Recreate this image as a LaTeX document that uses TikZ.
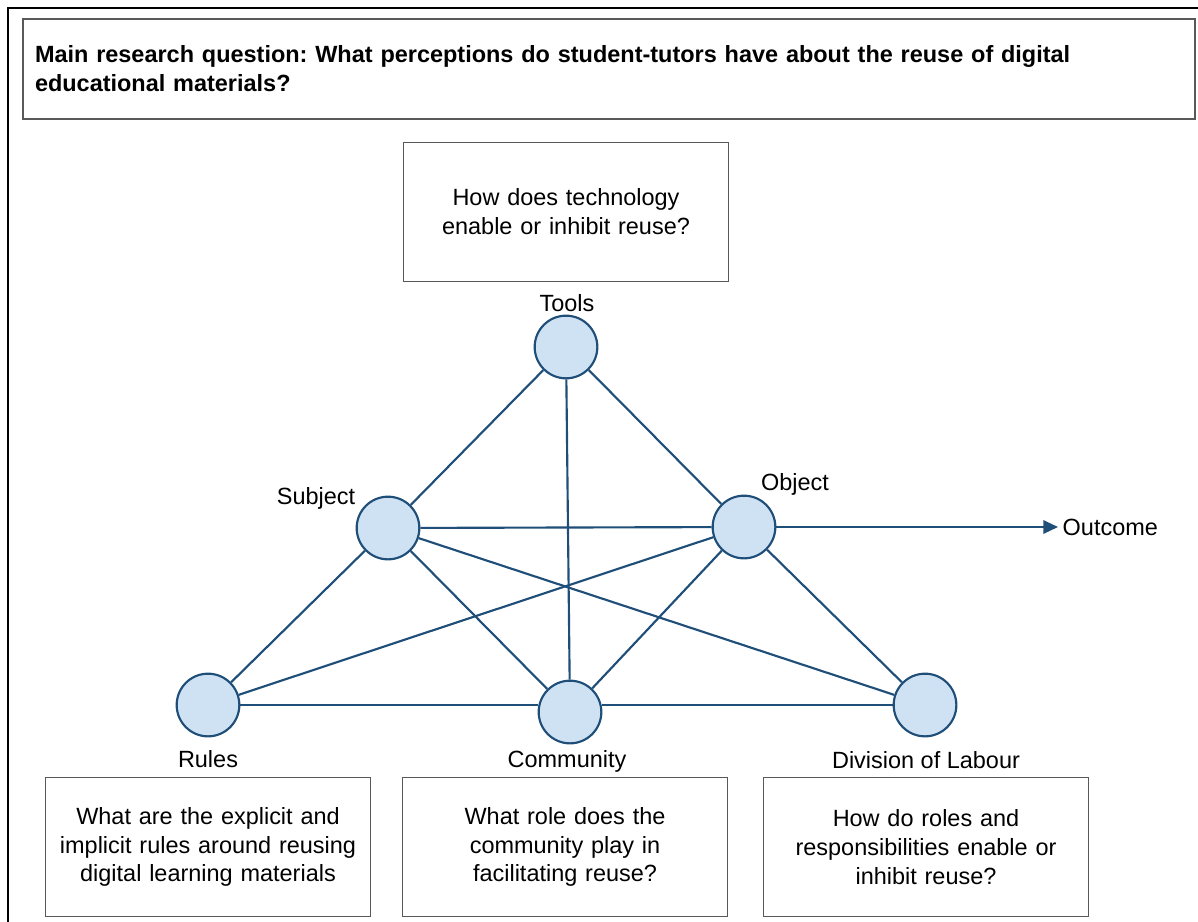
\documentclass[tikz,border=0pt]{standalone}
\usepackage{fontspec}
\setmainfont{Liberation Sans}
\frenchspacing
\usetikzlibrary{arrows.meta,positioning}
\definecolor{nodefill}{HTML}{CFE2F3}
\definecolor{nodeline}{HTML}{1F4E79}
\definecolor{boxline}{HTML}{595959}

\begin{document}
\begin{tikzpicture}
  [x=0.75pt,y=-0.75pt,
   every node/.style={font=\fontsize{17.6}{21.6}\selectfont},
   elem/.style={circle,draw=nodeline,fill=nodefill,line width=1.6pt,
                inner sep=0pt,minimum size=47pt},
   question/.style={rectangle,draw=boxline,line width=1pt,
                    minimum width=244pt,minimum height=104pt,
                    text width=236pt,align=center},
   link/.style={draw=nodeline,line width=1.6pt}]
  \useasboundingbox (0,0) rectangle (1198,921);
  \draw [line width=1.5pt] (8,930) -- (8,8) -- (1210,8);

  \node (title) at (609,69) [rectangle,draw=boxline,line width=1pt,
    minimum width=879pt,minimum height=75pt,text width=861pt,align=left,
    font=\bfseries\fontsize{17.6}{21.6}\selectfont]
    {Main research question: What perceptions do student-tutors have about the reuse of digital\\educational materials?};

  % questions
  \node (qtools) at (566,212) [question] {How does technology\\enable or inhibit reuse?};
  \node (qrules) at (208,847) [question] {What are the explicit and\\implicit rules around reusing\\digital learning materials};
  \node (qcomm) at (565,847) [question] {What role does the\\community play in\\facilitating reuse?};
  \node (qdiv) at (926,847) [question] {How do roles and\\responsibilities enable or\\inhibit reuse?};

  % activity system
  \node (tools) at (566,347) [elem] {};
  \node (subject) at (388,528) [elem] {};
  \node (object) at (744,527) [elem] {};
  \node (rules) at (208,705) [elem] {};
  \node (community) at (570,712) [elem] {};
  \node (division) at (925,705) [elem] {};

  \node (toolslbl) at (567,303) {Tools};
  \node (subjectlbl) at (316,498) {Subject};
  \node (objectlbl) at (795,484) {Object};
  \node (ruleslbl) at (208,759) {Rules};
  \node (commlbl) at (567,761) {Community};
  \node (divlbl) at (926,760) {Division of Labour};
  \node (outcome) at (1058,527) [anchor=west] {Outcome};

  \foreach \a/\b in {tools/subject,tools/object,tools/community,
                     subject/object,subject/rules,subject/community,subject/division,
                     object/rules,object/community,object/division}
    \draw [link] (\a) -- (\b);
  \draw [link] (rules) -- (community.west |- rules);
  \draw [link] (community.east |- division) -- (division);
  \draw [link,-{Triangle[length=11pt,width=10pt]}] (object) -- (outcome);
\end{tikzpicture}
\end{document}
